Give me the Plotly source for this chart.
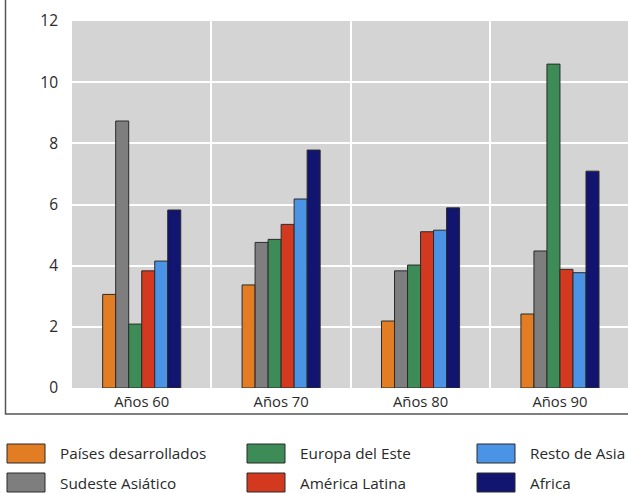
import plotly.graph_objects as go

# Decades on the x axis
categories = ["Años 60", "Años 70", "Años 80", "Años 90"]

# Regional series
series_names = [
    "Países desarrollados",
    "Sudeste Asiático",
    "Europa del Este",
    "América Latina",
    "Resto de Asia",
    "Africa",
]
paises_desarrollados = [3.06, 3.37, 2.19, 2.42]
sudeste_asiatico = [8.73, 4.76, 3.83, 4.48]
europa_del_este = [2.09, 4.86, 4.02, 10.59]
america_latina = [3.83, 5.35, 5.11, 3.88]
resto_de_asia = [4.15, 6.18, 5.16, 3.77]
africa = [5.82, 7.78, 5.89, 7.09]
series_values = [
    paises_desarrollados,
    sudeste_asiatico,
    europa_del_este,
    america_latina,
    resto_de_asia,
    africa,
]
series_colors = ["#E27D24", "#7E7E7E", "#3D8B57", "#D3391F", "#4B93E4", "#121570"]

y_tick_values = [0, 2, 4, 6, 8, 10, 12]

W, H = 628, 493
M_L, M_T, M_B, M_R = 72, 21, 105, 0
PW = W - M_L - M_R
PH = H - M_T - M_B
FONT = "Open Sans"
TEXT = "#2a2a2a"


def px_x(x):
    return (x - M_L) / PW


def px_y(y):
    return (H - M_B - y) / PH


fig = go.Figure()
for name, vals, col in zip(series_names, series_values, series_colors):
    fig.add_trace(
        go.Bar(
            x=categories,
            y=vals,
            name=name,
            marker=dict(color=col, line=dict(color="#2b2b2b", width=1)),
            showlegend=False,
        )
    )

# Outer frame around the plotting region (open on top and right)
frame_bottom = 414
fig.add_shape(
    type="rect", xref="paper", yref="paper",
    x0=px_x(5.5), x1=px_x(W + 20), y0=px_y(frame_bottom), y1=px_y(-20),
    line=dict(color="#555555", width=1.5), fillcolor="rgba(0,0,0,0)", layer="above",
)

# Legend: three columns, two rows
col_x = [7, 247, 477]
row_y = [444, 473]
sw_w, sw_h = 38, 19
for i, (name, col) in enumerate(zip(series_names, series_colors)):
    c, r = i // 2, i % 2
    x0, y0 = col_x[c], row_y[r]
    fig.add_shape(
        type="rect", xref="paper", yref="paper",
        x0=px_x(x0), x1=px_x(x0 + sw_w), y0=px_y(y0 + sw_h), y1=px_y(y0),
        fillcolor=col, line=dict(color="#2b2b2b", width=1),
    )
    fig.add_annotation(
        xref="paper", yref="paper",
        x=px_x(x0 + sw_w + 13), y=px_y(y0 + sw_h / 2),
        text=name, showarrow=False, xanchor="left", yanchor="middle",
        font=dict(family=FONT, size=15.3, color=TEXT),
    )

fig.update_layout(
    width=W,
    height=H,
    margin=dict(l=M_L, r=M_R, t=M_T, b=M_B, autoexpand=False),
    paper_bgcolor="white",
    plot_bgcolor="#d4d4d4",
    barmode="group",
    bargap=0.44,
    bargroupgap=0,
    showlegend=False,
    font=dict(family=FONT, color=TEXT),
    xaxis=dict(
        type="category",
        range=[-0.5, 3.488],
        tickson="boundaries",
        showgrid=True,
        gridcolor="white",
        gridwidth=2,
        ticks="",
        showline=False,
        zeroline=False,
        tickfont=dict(family=FONT, size=14.8, color=TEXT),
        ticklabelstandoff=3,
        automargin=False,
    ),
    yaxis=dict(
        range=[0, 12],
        tickvals=y_tick_values,
        showgrid=True,
        gridcolor="white",
        gridwidth=2,
        zeroline=False,
        showline=False,
        ticks="",
        tickfont=dict(family=FONT, size=15.5, color=TEXT),
        ticklabelstandoff=13,
        automargin=False,
    ),
)

fig.write_html("out.html")
